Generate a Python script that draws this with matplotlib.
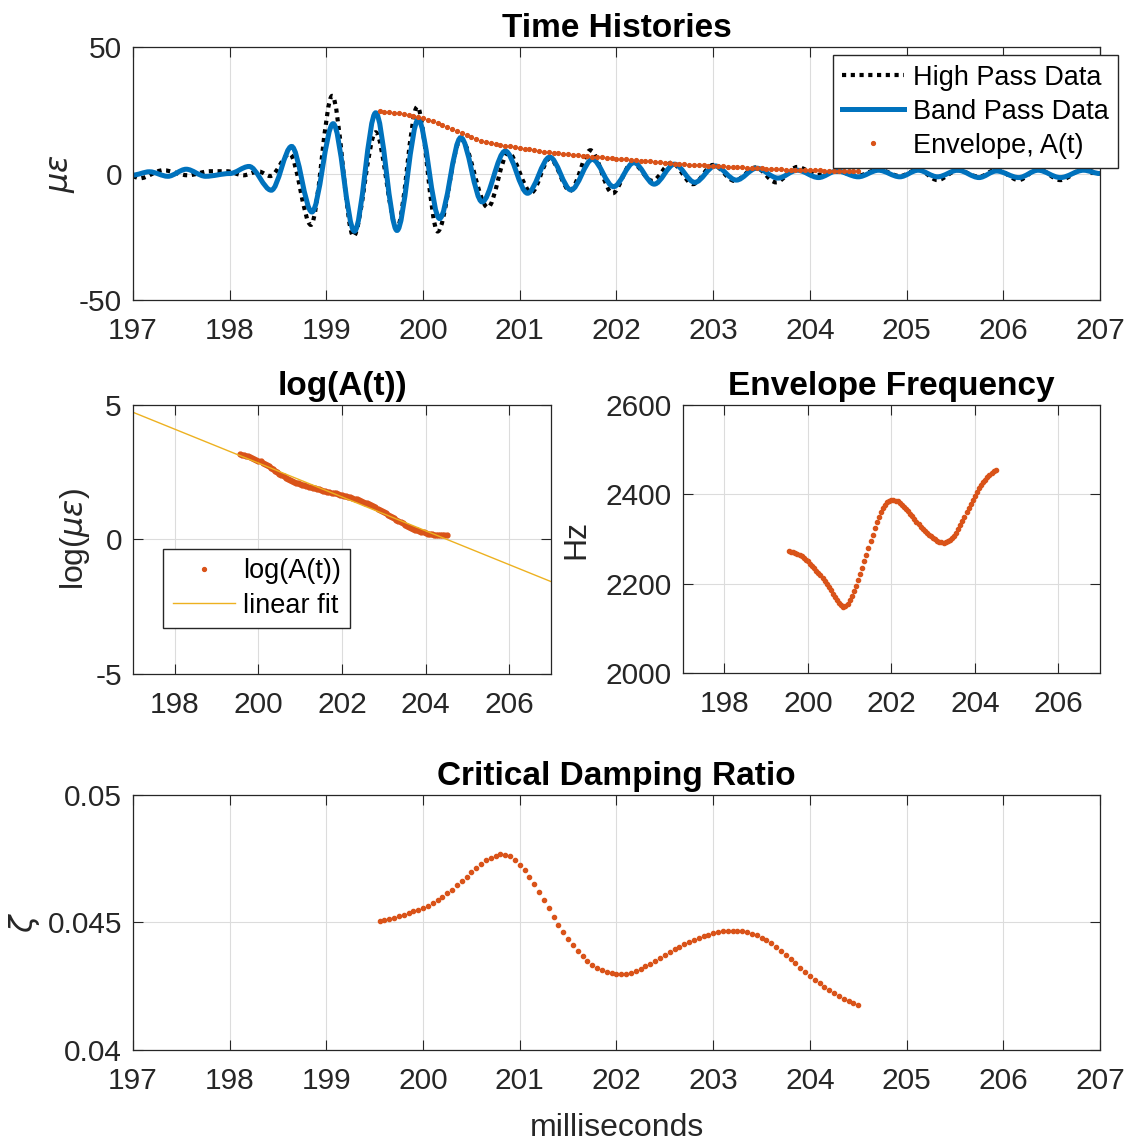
import numpy as np
import matplotlib
matplotlib.use("Agg")
import matplotlib.pyplot as plt
from matplotlib.path import Path
from matplotlib.patches import PathPatch
from matplotlib.lines import Line2D

plt.rcParams['font.family'] = ['Liberation Sans', 'DejaVu Sans']
plt.rcParams['axes.unicode_minus'] = False
plt.rcParams['mathtext.fontset'] = 'dejavusans'

BLUE = '#0072BD'
ORANGE = '#D95319'
YELLOW = '#EDB120'
INK = '#262626'

# band pass record, peaks and troughs (ms, microstrain)
bp_t = [197.00, 197.17, 197.36, 197.55, 197.75, 198.00, 198.20, 198.43, 198.64, 198.85,
        199.07, 199.29, 199.51, 199.73, 199.95, 200.17, 200.39, 200.61, 200.85, 201.08,
        201.31, 201.53, 201.75, 201.97, 202.18, 202.39, 202.60, 202.81, 203.02, 203.24,
        203.45, 203.67, 203.87, 204.09, 204.28, 204.50, 204.71, 204.93, 205.12, 205.32,
        205.53, 205.75, 205.93, 206.16, 206.36, 206.59, 206.83, 207.00]
bp_v = [-0.6, 0.7, -1.1, 1.7, -1.1, 0.0, 2.8, -6.6, 10.7, -15.2,
        19.7, -22.8, 24.0, -22.5, 21.3, -17.8, 14.2, -11.2, 8.9, -7.8,
        6.5, -6.5, 5.6, -5.2, 4.3, -4.2, 3.7, -3.5, 3.0, -2.6,
        2.1, -1.8, 1.3, -1.6, 1.0, -1.3, 1.3, -1.3, 1.3, -1.3,
        1.3, -1.6, 1.0, -1.6, 1.3, -1.6, 1.3, 0.0]

# high pass record, peaks and troughs
hp_t = [197.00, 197.07, 197.31, 197.57, 197.79, 197.97, 198.14, 198.30, 198.42, 198.62,
        198.84, 199.06, 199.28, 199.51, 199.73, 199.94, 200.15, 200.39, 200.67, 200.88,
        201.12, 201.31, 201.52, 201.73, 201.96, 202.16, 202.37, 202.57, 202.79, 203.00,
        203.22, 203.44, 203.65, 203.87, 204.08, 204.28, 204.49, 204.71, 204.93, 205.12,
        205.32, 205.53, 205.75, 205.93, 206.16, 206.36, 206.59, 206.83, 207.00]
hp_v = [-1.2, -1.9, 1.3, -0.7, 0.9, 0.9, -0.7, 0.8, -1.0, 7.8,
        -20.3, 30.7, -24.8, 16.3, -21.5, 26.4, -22.9, 13.5, -13.4, 8.2,
        -7.5, 6.0, -6.8, 9.2, -7.8, 4.3, -2.9, 4.3, -4.2, 3.4,
        -2.9, 2.4, -3.5, 2.6, -0.5, 0.8, -0.9, 1.6, -1.0, 1.6,
        -2.6, 1.3, -1.3, 1.6, -2.6, 1.8, -2.6, 1.7, 0.0]

# envelope samples, 0.05 ms apart
t_env = np.round(199.55 + 0.05 * np.arange(100), 2)

env = [24.6, 24.5, 24.3, 24.0, 23.8, 23.5, 23.2, 22.8, 22.4, 21.9,
       21.3, 20.6, 19.9, 19.1, 18.3, 17.5, 16.7, 15.9, 15.1, 14.4,
       13.7, 13.0, 12.5, 12.1, 11.7, 11.3, 11.0, 10.7, 10.4, 10.1,
       9.8, 9.5, 9.2, 8.9, 8.7, 8.5, 8.3, 8.1, 7.9, 7.7,
       7.5, 7.3, 7.1, 6.9, 6.7, 6.5, 6.4, 6.2, 6.0, 5.9,
       5.7, 5.6, 5.4, 5.3, 5.1, 4.9, 4.8, 4.6, 4.4, 4.3,
       4.1, 3.95, 3.8, 3.7, 3.55, 3.45, 3.35, 3.25, 3.15, 3.05,
       2.95, 2.85, 2.75, 2.65, 2.55, 2.45, 2.35, 2.25, 2.15, 2.05,
       1.95, 1.85, 1.75, 1.65, 1.56, 1.48, 1.41, 1.35, 1.30, 1.26,
       1.23, 1.20, 1.18, 1.17, 1.16, 1.15, 1.15, 1.15, 1.15, 1.15]

log_env = [3.16, 3.15, 3.13, 3.11, 3.09, 3.06, 3.03, 3.00, 2.97, 2.93,
           2.90, 2.86, 2.81, 2.77, 2.72, 2.67, 2.62, 2.56, 2.51, 2.45,
           2.40, 2.35, 2.30, 2.26, 2.22, 2.18, 2.14, 2.11, 2.09, 2.06,
           2.04, 2.01, 1.99, 1.96, 1.94, 1.92, 1.90, 1.88, 1.86, 1.84,
           1.82, 1.80, 1.78, 1.76, 1.74, 1.72, 1.71, 1.69, 1.67, 1.65,
           1.63, 1.61, 1.59, 1.57, 1.54, 1.52, 1.49, 1.46, 1.43, 1.40,
           1.37, 1.34, 1.31, 1.27, 1.23, 1.19, 1.15, 1.11, 1.06, 1.02,
           0.97, 0.92, 0.87, 0.83, 0.78, 0.73, 0.69, 0.64, 0.60, 0.55,
           0.51, 0.47, 0.44, 0.40, 0.37, 0.34, 0.31, 0.28, 0.26, 0.24,
           0.22, 0.21, 0.19, 0.18, 0.17, 0.16, 0.16, 0.15, 0.15, 0.15]

freq = [2274, 2272, 2270, 2268, 2266, 2264, 2261, 2258, 2254, 2250,
        2245, 2240, 2235, 2229, 2224, 2219, 2213, 2207, 2200, 2193,
        2186, 2178, 2171, 2164, 2157, 2152, 2149, 2150, 2155, 2163,
        2173, 2184, 2195, 2208, 2222, 2236, 2250, 2265, 2280, 2295,
        2309, 2324, 2338, 2350, 2361, 2370, 2377, 2382, 2385, 2387,
        2387, 2386, 2384, 2380, 2376, 2372, 2367, 2362, 2357, 2351,
        2345, 2339, 2333, 2328, 2323, 2318, 2314, 2310, 2306, 2302,
        2299, 2296, 2294, 2293, 2292, 2293, 2295, 2298, 2302, 2307,
        2314, 2322, 2331, 2340, 2350, 2360, 2369, 2378, 2388, 2397,
        2405, 2413, 2420, 2427, 2433, 2438, 2443, 2447, 2451, 2454]

zeta = [0.04505, 0.04509, 0.04512, 0.04518, 0.04524, 0.04530, 0.04537, 0.04544, 0.04550, 0.04557,
        0.04566, 0.04577, 0.04588, 0.04600, 0.04614, 0.04629, 0.04645, 0.04662, 0.04680, 0.04697,
        0.04714, 0.04730, 0.04743, 0.04754, 0.04762, 0.04767, 0.04766, 0.04759, 0.04746, 0.04727,
        0.04704, 0.04678, 0.04650, 0.04620, 0.04588, 0.04555, 0.04521, 0.04490, 0.04461, 0.04435,
        0.04411, 0.04389, 0.04369, 0.04350, 0.04335, 0.04322, 0.04312, 0.04305, 0.04300, 0.04297,
        0.04296, 0.04298, 0.04302, 0.04309, 0.04318, 0.04328, 0.04339, 0.04350, 0.04361, 0.04372,
        0.04383, 0.04394, 0.04404, 0.04414, 0.04423, 0.04431, 0.04439, 0.04446, 0.04452, 0.04458,
        0.04462, 0.04465, 0.04467, 0.04468, 0.04468, 0.04466, 0.04462, 0.04456, 0.04449, 0.04440,
        0.04430, 0.04418, 0.04405, 0.04390, 0.04374, 0.04357, 0.04340, 0.04323, 0.04306, 0.04290,
        0.04275, 0.04261, 0.04247, 0.04234, 0.04222, 0.04211, 0.04201, 0.04192, 0.04184, 0.04177]


def wave_path(t, v):
    # cubic segments with flat tangents at each peak/trough
    verts = [(t[0], v[0])]
    codes = [Path.MOVETO]
    for i in range(len(t) - 1):
        dt = t[i + 1] - t[i]
        verts += [(t[i] + dt / 3, v[i]), (t[i + 1] - dt / 3, v[i + 1]), (t[i + 1], v[i + 1])]
        codes += [Path.CURVE4] * 3
    return Path(verts, codes)


def style(ax, title):
    ax.set_title(title, fontsize=24, fontweight='bold', color='black', pad=7)
    ax.grid(True, color='#dcdcdc', linewidth=0.8)
    ax.set_axisbelow(True)
    ax.tick_params(direction='in', length=7, width=0.8, top=True, right=True,
                   labelsize=21.5, colors=INK)
    ax.tick_params(axis='x', pad=12)
    ax.tick_params(axis='y', pad=8)
    for s in ax.spines.values():
        s.set_color(INK)
        s.set_linewidth(0.9)


leg_kw = dict(fontsize=19.5, frameon=True, fancybox=False, edgecolor=INK,
              framealpha=1, handlelength=2.3, handletextpad=0.3, borderpad=0.35,
              labelspacing=0.3, borderaxespad=0)

fig = plt.figure(figsize=(11.32, 11.42), dpi=100)
ax1 = fig.add_axes([0.1175, 0.7373, 0.8542, 0.2215])
ax2 = fig.add_axes([0.1175, 0.4098, 0.3693, 0.2356])
ax3 = fig.add_axes([0.6031, 0.4105, 0.3687, 0.2350])
ax4 = fig.add_axes([0.1175, 0.0806, 0.8542, 0.2233])

# time histories
ax1.add_patch(PathPatch(wave_path(hp_t, hp_v), fill=False, edgecolor='black',
                        linewidth=3, linestyle=(0, (1, 1.1)), capstyle='butt'))
ax1.add_patch(PathPatch(wave_path(bp_t, bp_v), fill=False, edgecolor=BLUE,
                        linewidth=3.6))
ax1.plot(t_env, env, '.', color=ORANGE, markersize=5.5, zorder=5)
ax1.set_xlim(197, 207)
ax1.set_ylim(-50, 50)
ax1.set_xticks(np.arange(197, 208, 1))
ax1.set_yticks([-50, 0, 50])
ax1.set_ylabel(r'$\mu\epsilon$', fontsize=23, color=INK, labelpad=1)
style(ax1, 'Time Histories')
handles = [Line2D([], [], color='black', linewidth=3, linestyle=(0, (1, 1.1))),
           Line2D([], [], color=BLUE, linewidth=3.6),
           Line2D([], [], color=ORANGE, marker='.', linestyle='none', markersize=5.5)]
ax1.legend(handles, ['High Pass Data', 'Band Pass Data', 'Envelope, A(t)'],
           loc='upper right', bbox_to_anchor=(1.0186, 0.968), **leg_kw)

# log of the envelope with its straight-line fit
coef = np.polyfit(t_env, log_env, 1)
t_fit = np.array([197.0, 207.0])
ax2.plot(t_env, log_env, '.', color=ORANGE, markersize=7, label='log(A(t))')
ax2.plot(t_fit, np.polyval(coef, t_fit), color=YELLOW, linewidth=1, label='linear fit')
ax2.set_xlim(197, 207)
ax2.set_ylim(-5, 5)
ax2.set_xticks([198, 200, 202, 204, 206])
ax2.set_yticks([-5, 0, 5])
ax2.set_ylabel(r'log($\mu\epsilon$)', fontsize=23, color=INK, labelpad=2)
style(ax2, 'log(A(t))')
ax2.legend(loc='lower left', bbox_to_anchor=(0.072, 0.171), markerscale=0.8, **leg_kw)

# envelope frequency
ax3.plot(t_env, freq, '.', color=ORANGE, markersize=6)
ax3.set_xlim(197, 207)
ax3.set_ylim(2000, 2600)
ax3.set_xticks([198, 200, 202, 204, 206])
ax3.set_yticks([2000, 2200, 2400, 2600])
ax3.set_ylabel('Hz', fontsize=23, color=INK, labelpad=10)
style(ax3, 'Envelope Frequency')

# damping ratio
ax4.plot(t_env, zeta, '.', color=ORANGE, markersize=6)
ax4.set_xlim(197, 207)
ax4.set_ylim(0.04, 0.05)
ax4.set_xticks(np.arange(197, 208, 1))
ax4.set_yticks([0.04, 0.045, 0.05])
ax4.set_yticklabels(['0.04', '0.045', '0.05'])
ax4.set_ylabel(r'$\zeta$', fontsize=23, color=INK, labelpad=4)
ax4.set_xlabel('milliseconds', fontsize=23, color=INK, labelpad=13)
style(ax4, 'Critical Damping Ratio')

fig.savefig('out.png', dpi=100, facecolor='white')
